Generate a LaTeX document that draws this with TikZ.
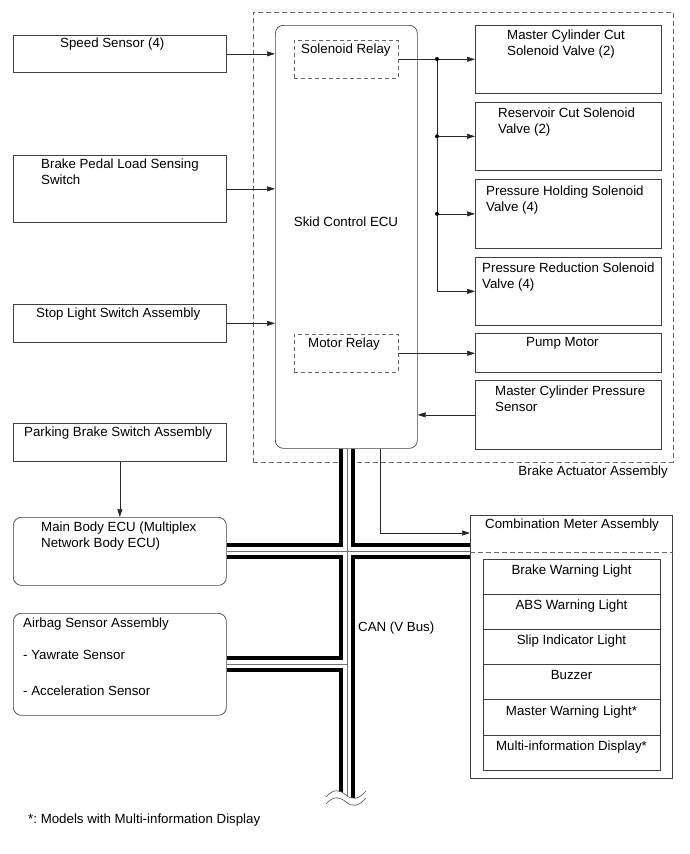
\documentclass[tikz,border=0pt]{standalone}
\usepackage{fontspec}
\setmainfont{Liberation Sans}
\usetikzlibrary{arrows.meta,positioning}
\newcommand{\boxfont}{\fontsize{13.3}{16}\selectfont}
\frenchspacing
\tikzset{
    unitbox/.style={rectangle,draw=black!75,line width=0.7pt,anchor=north west,inner sep=0pt,minimum width=213pt},
    ecubox/.style={unitbox,rounded corners=8pt},
    valvebox/.style={unitbox,minimum width=186pt},
    relaybox/.style={rectangle,draw=black!60,dash pattern=on 4pt off 3pt,line width=0.6pt,anchor=north west,inner sep=0pt,minimum width=104pt,minimum height=38pt},
    assybox/.style={rectangle,draw=black!60,dash pattern=on 5pt off 3pt,line width=0.6pt,anchor=north west,inner sep=0pt},
    divider/.style={draw=black!60,dash pattern=on 5pt off 3pt,line width=0.6pt},
    boxtext/.style={anchor=north west,inner sep=0pt,align=left,font=\boxfont},
    lampbox/.style={rectangle,draw=black!75,line width=0.7pt,outer sep=0pt,inner sep=0pt,minimum width=177pt,text height=15.3pt,text depth=19.9pt,font=\boxfont},
    sigline/.style={-{Triangle[length=8pt,width=5pt]},draw=black!85,line width=0.6pt},
    tapdot/.style={circle,fill=black,inner sep=0pt,minimum size=4pt},
    canbus/.style={draw=black!55,line width=1pt,preaction={draw=black,line width=16pt},preaction={draw=white,line width=8pt}},
    breakline/.style={draw=black!70,line width=0.6pt}
}
\begin{document}
\begin{tikzpicture}[x=1pt,y=1pt]
    \useasboundingbox (0,0) rectangle (690,-854);
    % brake actuator assembly
    \node[assybox,minimum width=420pt,minimum height=450pt] (actuator) at (253,-12) {};
    \node[boxtext,anchor=north east] (actuatortxt) at (668,-466) {Brake Actuator Assembly};
    \node[ecubox,minimum width=142pt,minimum height=423pt] (ecu) at (275,-25) {};
    \node[font=\boxfont,inner sep=0pt] (ecutxt) at (346,-222) {Skid Control ECU};
    \node[relaybox] (solrelay) at (294,-40) {};
    \node[boxtext] (solrelaytxt) at (301,-43.5) {Solenoid Relay};
    \node[relaybox] (motorrelay) at (294,-334) {};
    \node[boxtext] (motorrelaytxt) at (308,-337.5) {Motor Relay};
    \node[valvebox,minimum height=68pt] (mcc) at (475,-25) {};
    \node[boxtext] (mcctxt) at (507,-29.5) {Master Cylinder Cut\\Solenoid Valve (2)};
    \node[valvebox,minimum height=68pt] (reservoir) at (475,-102) {};
    \node[boxtext] (reservoirtxt) at (498,-107.5) {Reservoir Cut Solenoid\\Valve (2)};
    \node[valvebox,minimum height=69pt] (holding) at (475,-179) {};
    \node[boxtext] (holdingtxt) at (486,-185.5) {Pressure Holding Solenoid\\Valve (4)};
    \node[valvebox,minimum height=68pt] (reduction) at (475,-257) {};
    \node[boxtext] (reductiontxt) at (482,-262.5) {Pressure Reduction Solenoid\\Valve (4)};
    \node[valvebox,minimum height=39pt] (pump) at (475,-333) {};
    \node[boxtext] (pumptxt) at (526,-337.5) {Pump Motor};
    \node[valvebox,minimum height=69pt] (mcps) at (475,-380) {};
    \node[boxtext] (mcpstxt) at (495,-385.5) {Master Cylinder Pressure\\Sensor};
    % inputs
    \node[unitbox,minimum height=37pt] (speed) at (13,-35) {};
    \node[boxtext] (speedtxt) at (60,-37.5) {Speed Sensor (4)};
    \node[unitbox,minimum height=67pt] (pedal) at (13,-155) {};
    \node[boxtext] (pedaltxt) at (41,-158.5) {Brake Pedal Load Sensing\\Switch};
    \node[unitbox,minimum height=38pt] (stoplight) at (13,-304) {};
    \node[boxtext] (stoplighttxt) at (36,-307.5) {Stop Light Switch Assembly};
    \node[unitbox,minimum height=38pt] (parking) at (13,-423) {};
    \node[boxtext] (parkingtxt) at (24,-426.5) {Parking Brake Switch Assembly};
    \node[ecubox,minimum height=68pt] (mainbody) at (13,-517) {};
    \node[boxtext] (mainbodytxt) at (41,-521.5) {Main Body ECU (Multiplex\\Network Body ECU)};
    \node[ecubox,minimum height=102pt] (airbag) at (13,-613) {};
    \node[boxtext] (airbagtxt) at (23,-617.5) {Airbag Sensor Assembly\\[16pt]- Yawrate Sensor\\[20pt]- Acceleration Sensor};
    % combination meter
    \node[unitbox,minimum width=202pt,minimum height=263pt] (meter) at (470,-515) {};
    \node[boxtext] (metertxt) at (485,-518.5) {Combination Meter Assembly};
    \draw[divider] ([yshift=-37pt]meter.north west) -- ([yshift=-37pt]meter.north east);
    \node[lampbox,anchor=north west] (brakelamp) at (483,-559) {Brake Warning Light};
    \node[lampbox,below=0pt of brakelamp] (abslamp) {ABS Warning Light};
    \node[lampbox,below=0pt of abslamp] (sliplamp) {Slip Indicator Light};
    \node[lampbox,below=0pt of sliplamp] (buzzer) {Buzzer};
    \node[lampbox,below=0pt of buzzer] (masterlamp) {Master Warning Light*};
    \node[lampbox,below=0pt of masterlamp] (mid) {Multi-information Display*};
    % signal lines
    \draw[sigline] (speed.east) -- (speed.east -| ecu.west);
    \draw[sigline] (pedal.east) -- (pedal.east -| ecu.west);
    \draw[sigline] (stoplight.east) -- (stoplight.east -| ecu.west);
    \draw[sigline] (parking.south) -- (mainbody.north);
    \coordinate (tap) at (437,-59);
    \draw[sigline] (solrelay.east) -- (solrelay.east -| mcc.west);
    \draw[sigline] (tap) |- (reduction.west);
    \draw[sigline] (tap |- reservoir.west) -- (reservoir.west);
    \draw[sigline] (tap |- holding.west) -- (holding.west);
    \node[tapdot] (dotmcc) at (tap) {};
    \node[tapdot] (dotreservoir) at (tap |- reservoir.west) {};
    \node[tapdot] (dotholding) at (tap |- holding.west) {};
    \draw[sigline] (motorrelay.east) -- (motorrelay.east -| pump.west);
    \draw[sigline] (mcps.west) -- (mcps.west -| ecu.east);
    \coordinate (meterdrop) at (380,-448);
    \draw[sigline] (ecu.south -| meterdrop) |- ([yshift=-18pt]meter.north west);
    % CAN bus
    \coordinate (busend) at (347,-800);
    \path[canbus] (ecu.south -| busend) -- (busend)
        (mainbody.east) -- (mainbody.east -| meter.west)
        (airbag.east) -- (airbag.east -| busend);
    \node[boxtext] (cantxt) at (358,-621.5) {CAN (V Bus)};
    \fill[white] (326,-797) .. controls (334,-788) and (340,-790) .. (346,-795) .. controls (352,-800) and (358,-800) .. (366,-791) -- (366,-815) -- (326,-815) -- cycle;
    \draw[breakline] (326,-797) .. controls (334,-788) and (340,-790) .. (346,-795) .. controls (352,-800) and (358,-800) .. (366,-791);
    \draw[breakline] (326,-804) .. controls (334,-795) and (340,-797) .. (346,-802) .. controls (352,-807) and (358,-807) .. (366,-798);
    \node[boxtext] (notetxt) at (28,-813.5) {*: Models with Multi-information Display};
\end{tikzpicture}
\end{document}
